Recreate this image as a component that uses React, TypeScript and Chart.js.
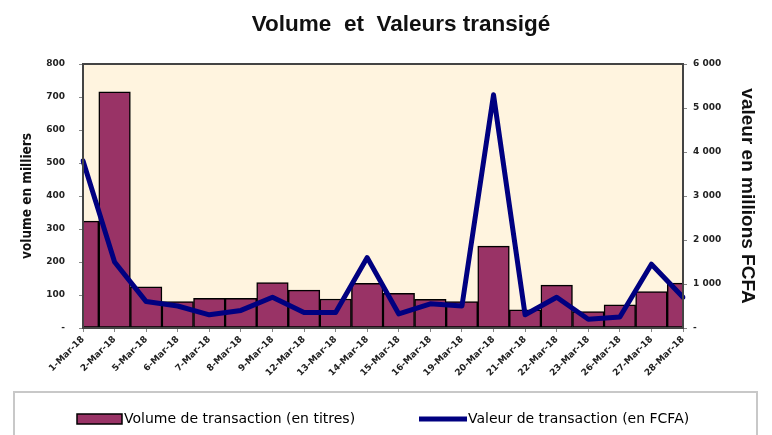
import React, { useEffect, useRef } from "react";
import { Chart, registerables } from "chart.js";

Chart.register(...registerables);

const categories = [
  "1-Mar-18", "2-Mar-18", "5-Mar-18", "6-Mar-18", "7-Mar-18", "8-Mar-18",
  "9-Mar-18", "12-Mar-18", "13-Mar-18", "14-Mar-18", "15-Mar-18", "16-Mar-18",
  "19-Mar-18", "20-Mar-18", "21-Mar-18", "22-Mar-18", "23-Mar-18", "26-Mar-18",
  "27-Mar-18", "28-Mar-18",
];
const volumes = [324, 716, 125, 80, 90, 90, 138, 115, 88, 135, 105, 87, 80, 248, 55, 130, 50, 70, 110, 136];
const valeurs = [3800, 1500, 600, 500, 300, 400, 700, 350, 350, 1600, 320, 550, 500, 5300, 300, 700, 200, 250, 1450, 700];

const chartTitle = "Volume  et  Valeurs transigé";
const leftAxisTitle = "volume en milliers";
const rightAxisTitle = "valeur en millions FCFA";
const seriesLabels = ["Volume de transaction (en titres)", "Valeur de transaction (en FCFA)"];
const leftMax = 800;
const leftStep = 100;
const rightMax = 6000;
const rightStep = 1000;

const BAR_COLOR = "#993366";
const LINE_COLOR = "#000080";
const PLOT_BG = "#FFF4DF";

function fmtThousands(v: number): string {
  if (v === 0) return "-";
  return String(v).replace(/\B(?=(\d{3})+(?!\d))/g, " ");
}

const decorPlugin = {
  id: "decor",
  beforeDatasetsDraw(chart: any) {
    const { ctx, chartArea: a } = chart;
    ctx.save();
    ctx.fillStyle = PLOT_BG;
    ctx.fillRect(a.left, a.top, a.right - a.left, a.bottom - a.top);
    ctx.restore();
  },
  afterDatasetsDraw(chart: any) {
    const { ctx, chartArea: a } = chart;
    ctx.save();
    ctx.strokeStyle = "#444444";
    ctx.lineWidth = 2;
    ctx.strokeRect(a.left, a.top, a.right - a.left, a.bottom - a.top);
    ctx.restore();
  },
  afterDraw(chart: any) {
    const { ctx } = chart;
    ctx.save();
    // title
    ctx.fillStyle = "#111111";
    ctx.font = "bold 22.5px 'Liberation Sans', Arial, sans-serif";
    ctx.textAlign = "center";
    ctx.textBaseline = "alphabetic";
    ctx.fillText(chartTitle, 401, 31);

    // legend box
    ctx.strokeStyle = "#c8c8c8";
    ctx.lineWidth = 2;
    ctx.strokeRect(14, 392, 743, 60);

    const ds = chart.data.datasets;
    ctx.textAlign = "left";
    ctx.textBaseline = "middle";
    ctx.font = "14px 'DejaVu Sans', sans-serif";
    // bar swatch
    ctx.fillStyle = BAR_COLOR;
    ctx.fillRect(77, 414, 45, 10);
    ctx.strokeStyle = "#000000";
    ctx.lineWidth = 1.5;
    ctx.strokeRect(77, 414, 45, 10);
    ctx.fillStyle = "#000000";
    ctx.fillText(ds[1].label, 124, 419);
    // line swatch
    ctx.strokeStyle = LINE_COLOR;
    ctx.lineWidth = 5;
    ctx.beginPath();
    ctx.moveTo(419, 419);
    ctx.lineTo(467, 419);
    ctx.stroke();
    ctx.fillStyle = "#000000";
    ctx.fillText(ds[0].label, 468, 419);
    ctx.restore();
  },
};

export default function App() {
  const ref = useRef<HTMLCanvasElement | null>(null);

  useEffect(() => {
    if (!ref.current) return;
    const tickFont = { family: "'DejaVu Sans', sans-serif", size: 9, weight: "bold" as const };
    const chart = new Chart(ref.current, {
      type: "bar",
      data: {
        labels: categories,
        datasets: [
          {
            type: "line" as const,
            label: seriesLabels[1],
            data: valeurs,
            yAxisID: "y1",
            borderColor: LINE_COLOR,
            backgroundColor: LINE_COLOR,
            borderWidth: 5,
            borderJoinStyle: "round",
            borderCapStyle: "round",
            pointRadius: 0,
            tension: 0,
            order: 0,
          },
          {
            type: "bar" as const,
            label: seriesLabels[0],
            data: volumes,
            yAxisID: "y",
            backgroundColor: BAR_COLOR,
            borderColor: "#000000",
            borderWidth: 1.5,
            borderSkipped: false,
            barPercentage: 1,
            categoryPercentage: 1,
            clip: 0,
            order: 1,
          },
        ],
      } as any,
      options: {
        responsive: false,
        animation: false,
        layout: { padding: { top: 64, bottom: 43, left: 0, right: 0 } },
        plugins: {
          legend: { display: false },
          title: { display: false },
          tooltip: { enabled: false },
        },
        scales: {
          x: {
            offset: false,
            grid: { display: true, drawOnChartArea: false, offset: false, tickLength: 4, color: "#888888" },
            border: { display: false },
            ticks: {
              autoSkip: false,
              maxRotation: 45,
              minRotation: 45,
              padding: 2,
              color: "#222222",
              font: tickFont,
            },
            afterFit(scale: any) {
              scale.height = 64;
            },
          },
          y: {
            position: "left",
            min: 0,
            max: leftMax,
            ticks: {
              stepSize: leftStep,
              padding: 14,
              color: "#222222",
              font: tickFont,
              callback: (v: any) => (Number(v) === 0 ? "-" : String(v)),
            },
            grid: { display: true, drawOnChartArea: false, tickLength: 4, color: "#888888" },
            border: { display: false },
            title: {
              display: true,
              text: leftAxisTitle,
              color: "#111111",
              font: { family: "'DejaVu Sans Condensed', 'Liberation Sans', sans-serif", size: 13.5, weight: "bold" },
              padding: { top: 19, bottom: 0 },
            },
            afterFit(scale: any) {
              scale.width = 83;
            },
          },
          y1: {
            position: "right",
            min: 0,
            max: rightMax,
            ticks: {
              stepSize: rightStep,
              padding: 6,
              color: "#222222",
              font: tickFont,
              callback: (v: any) => fmtThousands(Number(v)),
            },
            grid: { display: true, drawOnChartArea: false, tickLength: 4, color: "#888888" },
            border: { display: false },
            title: {
              display: true,
              text: rightAxisTitle,
              color: "#111111",
              font: { family: "'Liberation Sans', Arial, sans-serif", size: 19, weight: "bold" },
              padding: { top: 13, bottom: 0 },
            },
            afterFit(scale: any) {
              scale.width = 89;
            },
          },
        },
      } as any,
      plugins: [decorPlugin],
    });
    return () => chart.destroy();
  }, []);

  return (
    <div style={{ position: "fixed", left: 0, top: 0, width: 772, height: 435, background: "#ffffff" }}>
      <canvas ref={ref} width={772} height={435} style={{ width: 772, height: 435, display: "block" }} />
    </div>
  );
}
